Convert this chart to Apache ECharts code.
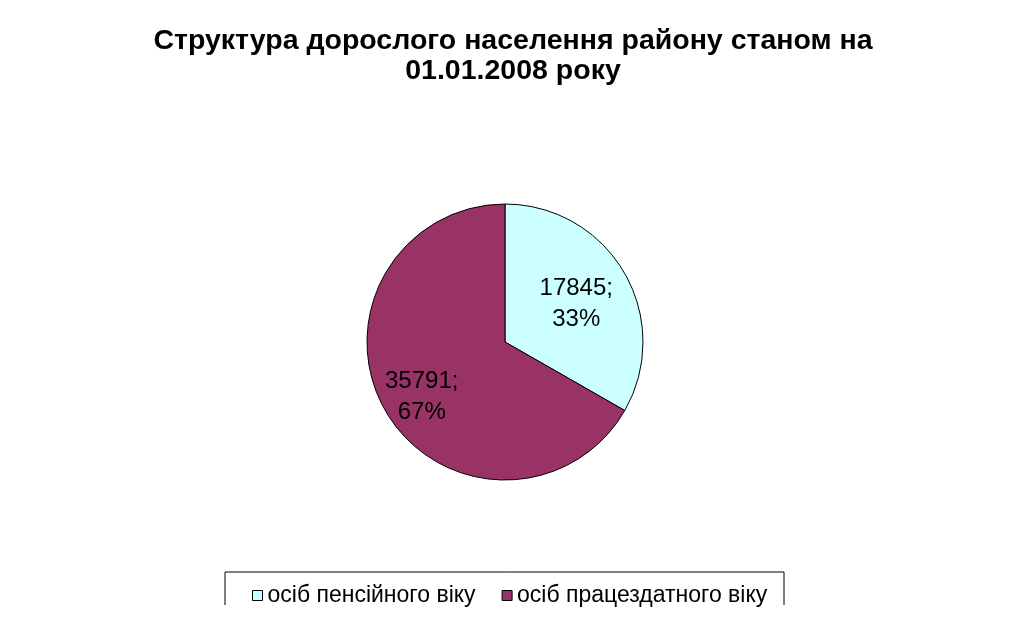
<!DOCTYPE html>
<html>
<head>
<meta charset="utf-8">
<script src="https://cdn.jsdelivr.net/npm/echarts@6/dist/echarts.min.js"></script>
<style>
  html, body { margin: 0; padding: 0; background: #fff; }
  #chart { width: 1011px; height: 634px; }
</style>
</head>
<body>
<div id="chart"></div>
<script>
var categories = ["осіб пенсійного віку", "осіб працездатного віку"];
var values = [17845, 35791];
var colors = ["#ccffff", "#993366"];

var font = "'Liberation Sans', Arial, sans-serif";

var chart = echarts.init(document.getElementById("chart"));

var option = {
  backgroundColor: "#fff",
  animation: false,
  title: {
    text: "Структура дорослого населення району станом на\n01.01.2008 року",
    left: 508,
    top: 21,
    textAlign: "center",
    textStyle: {
      fontFamily: font,
      fontSize: 28.5,
      fontWeight: "bold",
      color: "#000",
      lineHeight: 30,
    },
  },
  legend: {
    data: categories,
    left: 247,
    top: 579,
    icon: "rect",
    itemWidth: 10,
    itemHeight: 10,
    itemGap: 26,
    itemStyle: {
      borderColor: "#000",
      borderWidth: 1,
    },
    textStyle: {
      fontFamily: font,
      fontSize: 23,
      color: "#000",
      padding: [5, 0, 0, 0],
    },
  },
  graphic: [
    {
      type: "polyline",
      shape: { points: [[225, 605], [225, 572], [784, 572], [784, 605]] },
      style: { stroke: "#000", lineWidth: 1, fill: null },
    },
  ],
  series: [
    {
      type: "pie",
      center: [505, 342],
      radius: 138,
      startAngle: 90,
      clockwise: true,
      percentPrecision: 0,
      color: colors,
      itemStyle: {
        borderColor: "#000",
        borderWidth: 1,
      },
      label: {
        show: true,
        position: "inside",
        formatter: "{c};\n{d}%",
        fontFamily: font,
        fontSize: 24,
        lineHeight: 31,
        color: "#000",
        align: "center",
      },
      labelLine: { show: false },
      emphasis: { disabled: true },
      data: categories.map(function (name, i) {
        // nudge labels outward to where Excel puts them
        var offsets = [[9, -2], [-21, 19]];
        return { name: name, value: values[i], label: { offset: offsets[i] } };
      }),
    },
  ],
};

chart.setOption(option);
</script>
</body>
</html>
